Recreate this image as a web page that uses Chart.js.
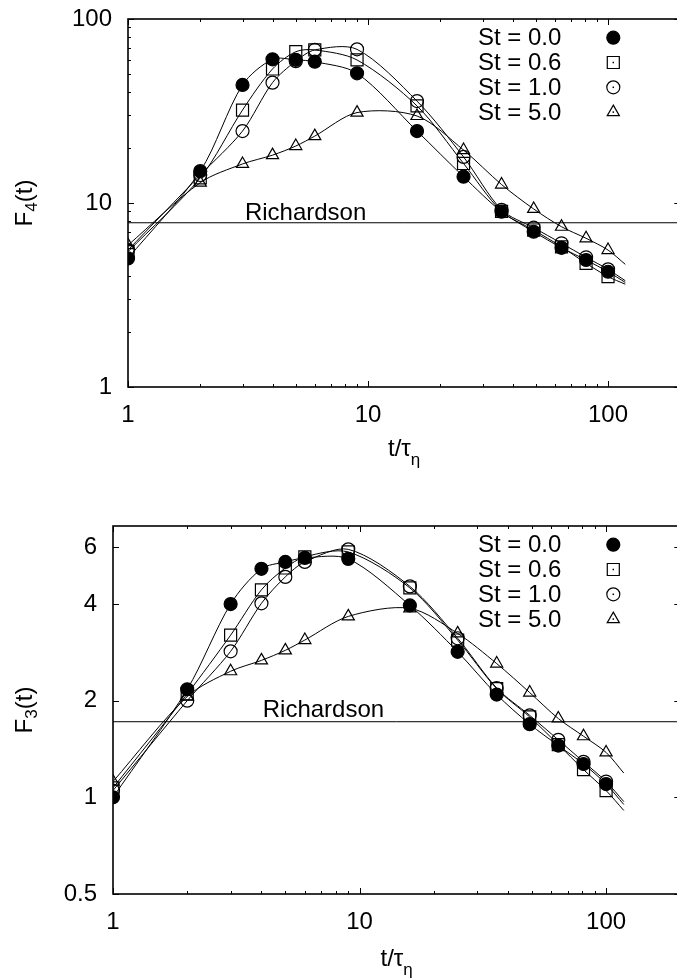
<!DOCTYPE html>
<html>
<head>
<meta charset="utf-8">
<script src="https://cdn.jsdelivr.net/npm/chart.js@4.4.1/dist/chart.umd.min.js"></script>
<style>
  html, body { margin: 0; padding: 0; background: #fff; overflow: hidden; width: 677px; height: 980px; }
  canvas { position: absolute; left: 0; }
  #f4 { top: 0; }
  #f3 { top: 490px; }
</style>
</head>
<body>
<canvas id="f4" width="690" height="490"></canvas>
<canvas id="f3" width="690" height="490"></canvas>
<script>
// time lags t / tau_eta where the points were measured
const tPts = [1, 2, 3, 4, 5, 6, 9, 16, 25, 36, 49, 64, 81, 100];
const tEnd = 118; // where the fitted curves stop
const stLabels = ['St = 0.0', 'St = 0.6', 'St = 1.0', 'St = 5.0'];

// F4(t)
const f4St00 = [5.0, 14.9, 43.8, 60.4, 60.0, 58.6, 50.7, 24.6, 13.9, 8.97, 6.98, 5.71, 4.90, 4.23];
const f4St06 = [5.44, 13.7, 32.0, 53.5, 66.4, 67.9, 59.9, 33.7, 16.4, 9.0, 7.13, 5.78, 4.70, 3.98];
const f4St10 = [5.55, 14.2, 24.6, 45.1, 59.0, 67.9, 68.4, 35.8, 17.8, 9.18, 7.34, 6.04, 5.07, 4.36];
const f4St50 = [5.9, 12.9, 16.3, 18.2, 20.4, 23.1, 31.0, 29.7, 19.4, 12.6, 9.28, 7.43, 6.43, 5.55];
const f4EndVals = [3.70, 3.62, 3.78, 4.64];
const f4Richardson = 7.81;

// F3(t)
const f3St00 = [1.0, 2.17, 4.0, 5.15, 5.41, 5.57, 5.53, 3.96, 2.84, 2.09, 1.69, 1.45, 1.27, 1.10];
const f3St06 = [1.07, 2.10, 3.20, 4.43, 5.18, 5.61, 5.81, 4.49, 3.09, 2.18, 1.78, 1.46, 1.22, 1.05];
const f3St10 = [1.05, 2.0, 2.85, 4.02, 4.86, 5.41, 5.92, 4.54, 3.13, 2.19, 1.80, 1.51, 1.29, 1.12];
const f3St50 = [1.12, 2.06, 2.47, 2.67, 2.87, 3.09, 3.66, 3.88, 3.24, 2.61, 2.12, 1.76, 1.55, 1.38];
const f3EndVals = [0.95, 0.91, 0.97, 1.19];
const f3Richardson = 1.72;

// axis ticks
const xMajor = [1, 10, 100];
const xMinor = [2, 3, 4, 5, 6, 7, 8, 9, 20, 30, 40, 50, 60, 70, 80, 90];
const f4YMajor = [1, 10, 100];
const f4YMinor = [2, 3, 4, 5, 6, 7, 8, 9, 20, 30, 40, 50, 60, 70, 80, 90];
const f3YMajor = [0.5, 1, 2, 4, 6];
const f3YMinor = [];

const FONT = '"Liberation Sans", Arial, Helvetica, sans-serif';

const markers = [
  { pointStyle: 'circle', radius: 6.5, fill: '#000', dot: false },
  { pointStyle: 'rect', radius: 8.5, fill: 'rgba(0,0,0,0)', dot: true },
  { pointStyle: 'circle', radius: 6.5, fill: 'rgba(0,0,0,0)', dot: true },
  { pointStyle: 'triangle', radius: 7, fill: 'rgba(0,0,0,0)', dot: true }
];

function series(vals, endVal, m) {
  const data = tPts.map((t, i) => ({ x: t, y: vals[i] }));
  data.push({ x: tEnd, y: endVal });
  return {
    data: data,
    borderColor: '#000',
    borderWidth: 1,
    tension: 0.3,
    pointStyle: m.pointStyle,
    pointRadius: data.map((d, i) => i < tPts.length ? m.radius : 0),
    pointHoverRadius: 0,
    pointBackgroundColor: m.fill,
    pointBorderColor: '#000',
    pointBorderWidth: 1.2
  };
}

const gnuFrame = {
  id: 'gnuFrame',
  afterDraw(chart, args, o) {
    const { ctx, chartArea: a, scales: { x, y } } = chart;
    ctx.save();
    ctx.strokeStyle = '#000';
    ctx.fillStyle = '#000';

    // ticks, pointing inwards on all four sides
    ctx.lineWidth = 1;
    ctx.beginPath();
    const xt = (v, len) => {
      const p = Math.round(x.getPixelForValue(v)) + 0.5;
      ctx.moveTo(p, a.bottom); ctx.lineTo(p, a.bottom - len);
      ctx.moveTo(p, a.top); ctx.lineTo(p, a.top + len);
    };
    const yt = (v, len) => {
      const p = Math.round(y.getPixelForValue(v)) + 0.5;
      ctx.moveTo(a.left, p); ctx.lineTo(a.left + len, p);
      ctx.moveTo(a.right, p); ctx.lineTo(a.right - len, p);
    };
    xMajor.forEach(v => xt(v, 6));
    xMinor.forEach(v => xt(v, 3));
    o.yMajor.forEach(v => yt(v, 6));
    o.yMinor.forEach(v => yt(v, 3));
    ctx.stroke();

    // frame
    ctx.lineWidth = 1.6;
    ctx.strokeRect(a.left, a.top, a.right - a.left, a.bottom - a.top);

    // Richardson label
    ctx.font = '24px ' + FONT;
    ctx.textAlign = 'left';
    ctx.textBaseline = 'alphabetic';
    ctx.fillText('Richardson', x.getPixelForValue(o.richX), y.getPixelForValue(o.richY));

    // key
    stLabels.forEach((lab, i) => {
      const cy = a.top + 18.7 + i * 24.8;
      ctx.font = '24px ' + FONT;
      ctx.textAlign = 'right';
      ctx.textBaseline = 'middle';
      ctx.fillText(lab, a.right - 119, cy + 1);
      const m = markers[i];
      ctx.fillStyle = m.fill;
      ctx.strokeStyle = '#000';
      ctx.lineWidth = 1.2;
      Chart.helpers.drawPoint(ctx, { pointStyle: m.pointStyle, radius: m.radius, rotation: 0, borderWidth: 1.2 }, a.right - 67, cy);
      ctx.fillStyle = '#000';
      if (m.dot) ctx.fillRect(a.right - 67 - 0.75, cy - 0.75, 1.5, 1.5);
    });

    const big = '24px ' + FONT, small = '17px ' + FONT;

    // y title with subscript, rotated
    ctx.save();
    ctx.translate(o.yTitleX, (a.top + a.bottom) / 2);
    ctx.rotate(-Math.PI / 2);
    ctx.textBaseline = 'alphabetic';
    ctx.textAlign = 'left';
    ctx.font = big; const w1 = ctx.measureText('F').width;
    ctx.font = small; const w2 = ctx.measureText(o.ySub).width;
    ctx.font = big; const w3 = ctx.measureText('(t)').width;
    let sx = -(w1 + w2 + w3) / 2;
    ctx.font = big; ctx.fillText('F', sx, 0); sx += w1;
    ctx.font = small; ctx.fillText(o.ySub, sx, 5); sx += w2;
    ctx.font = big; ctx.fillText('(t)', sx, 0);
    ctx.restore();

    // x title t/tau_eta
    {
      const base = a.bottom + o.xTitleOff;
      ctx.font = big; const u1 = ctx.measureText('t/τ').width;
      ctx.font = small; const u2 = ctx.measureText('η').width;
      const tx = (a.left + a.right) / 2 - (u1 + u2) / 2;
      ctx.textAlign = 'left';
      ctx.textBaseline = 'alphabetic';
      ctx.font = big; ctx.fillText('t/τ', tx, base);
      ctx.font = small; ctx.fillText('η', tx + u1, base + 9);
    }
    ctx.restore();
  }
};

function makeChart(id, sets, ends, rich, o) {
  const datasets = sets.map((vals, i) => series(vals, ends[i], markers[i]));
  datasets.push({
    data: [{ x: 1, y: rich }, { x: 200, y: rich }],
    borderColor: '#000', borderWidth: 1, pointRadius: 0, tension: 0
  });
  return new Chart(document.getElementById(id), {
    type: 'line',
    data: { datasets: datasets },
    options: {
      responsive: false,
      animation: false,
      devicePixelRatio: 1,
      events: [],
      layout: { padding: { top: o.top, right: 9, left: 0, bottom: 0 } },
      plugins: {
        legend: { display: false },
        tooltip: { enabled: false },
        gnuFrame: o
      },
      scales: {
        x: {
          type: 'logarithmic',
          position: 'bottom',
          min: 1,
          max: 200,
          afterBuildTicks: s => { s.ticks = xMajor.map(v => ({ value: v })); },
          afterFit: s => {
            s.height = o.xAxisH;
            s.paddingLeft = 0; s.paddingRight = 0;
          },
          grid: { display: false, drawTicks: false },
          border: { display: false },
          ticks: {
            color: '#000',
            padding: 14,
            maxRotation: 0,
            autoSkip: false,
            font: { family: FONT, size: 24 },
            callback: v => String(v)
          }
        },
        y: {
          type: 'logarithmic',
          min: o.yMin,
          max: o.yMax,
          afterBuildTicks: s => { s.ticks = o.yMajor.map(v => ({ value: v })); },
          afterFit: s => {
            s.width = o.yAxisW;
            s.paddingTop = 0; s.paddingBottom = 0;
          },
          grid: { display: false, drawTicks: false },
          border: { display: false },
          ticks: {
            color: '#000',
            padding: 16,
            autoSkip: false,
            font: { family: FONT, size: 24 },
            callback: v => String(v)
          }
        }
      }
    },
    plugins: [gnuFrame]
  });
}

makeChart('f4', [f4St00, f4St06, f4St10, f4St50], f4EndVals, f4Richardson, {
  top: 19, xAxisH: 103, yAxisW: 128, yMin: 1, yMax: 100,
  yMajor: f4YMajor, yMinor: f4YMinor, ySub: '4',
  richX: 3.07, richY: 8.08, yTitleX: 32, xTitleOff: 69
});

makeChart('f3', [f3St00, f3St06, f3St10, f3St50], f3EndVals, f3Richardson, {
  top: 36, xAxisH: 86, yAxisW: 113, yMin: 0.5, yMax: 7,
  yMajor: f3YMajor, yMinor: f3YMinor, ySub: '3',
  richX: 4.05, richY: 1.778, yTitleX: 32, xTitleOff: 72
});
</script>
</body>
</html>
